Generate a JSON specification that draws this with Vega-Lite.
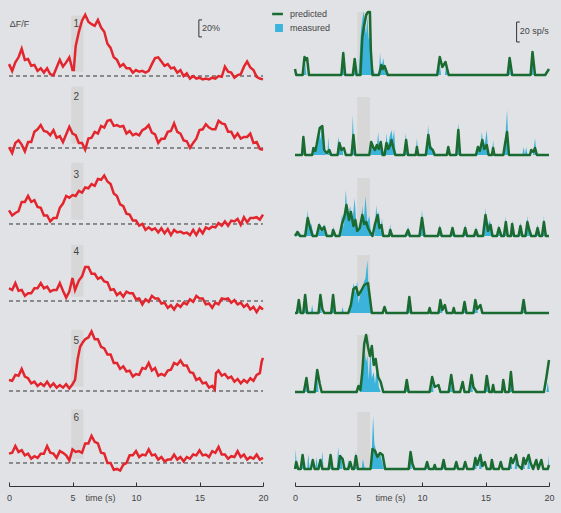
{
"$schema":"https://vega.github.io/schema/vega-lite/v6.json",
"background":"#e1e2e6",
"padding":{"left":4,"top":8,"right":12,"bottom":36},
"config":{"font":"Liberation Sans","view":{"stroke":null},"axis":{"grid":false}},
"datasets":{
"left":[
{"p":1,"t":0,"v":14},{"p":1,"t":0.25,"v":6},{"p":1,"t":0.5,"v":16},{"p":1,"t":0.75,"v":22},{"p":1,"t":1,"v":32},{"p":1,"t":1.25,"v":19},{"p":1,"t":1.5,"v":20},{"p":1,"t":1.75,"v":12},{"p":1,"t":2,"v":13},{"p":1,"t":2.25,"v":6},{"p":1,"t":2.5,"v":9},{"p":1,"t":2.75,"v":4},{"p":1,"t":3,"v":9},{"p":1,"t":3.25,"v":2},{"p":1,"t":3.5,"v":1},{"p":1,"t":3.75,"v":10},{"p":1,"t":4,"v":19},{"p":1,"t":4.25,"v":11},{"p":1,"t":4.5,"v":16},{"p":1,"t":4.75,"v":22},{"p":1,"t":5,"v":7},{"p":1,"t":5.1,"v":7},{"p":1,"t":5.25,"v":35},{"p":1,"t":5.5,"v":52},{"p":1,"t":5.75,"v":65},{"p":1,"t":6,"v":72},{"p":1,"t":6.25,"v":64},{"p":1,"t":6.5,"v":61},{"p":1,"t":6.75,"v":59},{"p":1,"t":7,"v":66},{"p":1,"t":7.25,"v":57},{"p":1,"t":7.5,"v":52},{"p":1,"t":7.75,"v":38},{"p":1,"t":8,"v":33},{"p":1,"t":8.25,"v":22},{"p":1,"t":8.5,"v":19},{"p":1,"t":8.75,"v":11},{"p":1,"t":9,"v":14},{"p":1,"t":9.25,"v":9},{"p":1,"t":9.5,"v":9},{"p":1,"t":9.75,"v":4},{"p":1,"t":10,"v":7},{"p":1,"t":10.25,"v":5},{"p":1,"t":10.5,"v":6},{"p":1,"t":10.75,"v":4},{"p":1,"t":11,"v":6},{"p":1,"t":11.25,"v":14},{"p":1,"t":11.5,"v":21},{"p":1,"t":11.75,"v":22},{"p":1,"t":12,"v":17},{"p":1,"t":12.25,"v":12},{"p":1,"t":12.5,"v":14},{"p":1,"t":12.75,"v":9},{"p":1,"t":13,"v":10},{"p":1,"t":13.25,"v":4},{"p":1,"t":13.5,"v":7},{"p":1,"t":13.75,"v":0},{"p":1,"t":14,"v":3},{"p":1,"t":14.25,"v":-3},{"p":1,"t":14.5,"v":0},{"p":1,"t":14.75,"v":-3},{"p":1,"t":15,"v":-2},{"p":1,"t":15.25,"v":-4},{"p":1,"t":15.5,"v":-3},{"p":1,"t":15.75,"v":-4},{"p":1,"t":16,"v":-2},{"p":1,"t":16.25,"v":-3},{"p":1,"t":16.5,"v":0},{"p":1,"t":16.75,"v":-1},{"p":1,"t":17,"v":11},{"p":1,"t":17.25,"v":5},{"p":1,"t":17.5,"v":4},{"p":1,"t":17.75,"v":-2},{"p":1,"t":18,"v":1},{"p":1,"t":18.25,"v":2},{"p":1,"t":18.5,"v":11},{"p":1,"t":18.75,"v":17},{"p":1,"t":19,"v":10},{"p":1,"t":19.25,"v":7},{"p":1,"t":19.5,"v":-1},{"p":1,"t":19.75,"v":-3},{"p":1,"t":20,"v":-4},
{"p":2,"t":0,"v":1},{"p":2,"t":0.25,"v":-6},{"p":2,"t":0.5,"v":6},{"p":2,"t":0.75,"v":9},{"p":2,"t":1,"v":4},{"p":2,"t":1.25,"v":-4},{"p":2,"t":1.5,"v":7},{"p":2,"t":1.75,"v":7},{"p":2,"t":2,"v":19},{"p":2,"t":2.25,"v":22},{"p":2,"t":2.5,"v":27},{"p":2,"t":2.75,"v":20},{"p":2,"t":3,"v":19},{"p":2,"t":3.25,"v":15},{"p":2,"t":3.5,"v":21},{"p":2,"t":3.75,"v":12},{"p":2,"t":4,"v":14},{"p":2,"t":4.25,"v":7},{"p":2,"t":4.5,"v":16},{"p":2,"t":4.75,"v":25},{"p":2,"t":5,"v":17},{"p":2,"t":5.25,"v":15},{"p":2,"t":5.5,"v":6},{"p":2,"t":5.75,"v":6},{"p":2,"t":6,"v":-2},{"p":2,"t":6.25,"v":11},{"p":2,"t":6.5,"v":12},{"p":2,"t":6.75,"v":19},{"p":2,"t":7,"v":17},{"p":2,"t":7.25,"v":26},{"p":2,"t":7.5,"v":24},{"p":2,"t":7.75,"v":32},{"p":2,"t":8,"v":33},{"p":2,"t":8.25,"v":26},{"p":2,"t":8.5,"v":27},{"p":2,"t":8.75,"v":25},{"p":2,"t":9,"v":26},{"p":2,"t":9.25,"v":17},{"p":2,"t":9.5,"v":20},{"p":2,"t":9.75,"v":15},{"p":2,"t":10,"v":17},{"p":2,"t":10.25,"v":15},{"p":2,"t":10.5,"v":21},{"p":2,"t":10.75,"v":23},{"p":2,"t":11,"v":27},{"p":2,"t":11.25,"v":18},{"p":2,"t":11.5,"v":16},{"p":2,"t":11.75,"v":6},{"p":2,"t":12,"v":11},{"p":2,"t":12.25,"v":11},{"p":2,"t":12.5,"v":19},{"p":2,"t":12.75,"v":20},{"p":2,"t":13,"v":29},{"p":2,"t":13.25,"v":19},{"p":2,"t":13.5,"v":17},{"p":2,"t":13.75,"v":9},{"p":2,"t":14,"v":8},{"p":2,"t":14.25,"v":0},{"p":2,"t":14.5,"v":6},{"p":2,"t":14.75,"v":11},{"p":2,"t":15,"v":21},{"p":2,"t":15.25,"v":22},{"p":2,"t":15.5,"v":28},{"p":2,"t":15.75,"v":24},{"p":2,"t":16,"v":22},{"p":2,"t":16.25,"v":22},{"p":2,"t":16.5,"v":32},{"p":2,"t":16.75,"v":29},{"p":2,"t":17,"v":28},{"p":2,"t":17.25,"v":19},{"p":2,"t":17.5,"v":19},{"p":2,"t":17.75,"v":12},{"p":2,"t":18,"v":17},{"p":2,"t":18.25,"v":11},{"p":2,"t":18.5,"v":13},{"p":2,"t":18.75,"v":13},{"p":2,"t":19,"v":17},{"p":2,"t":19.25,"v":6},{"p":2,"t":19.5,"v":7},{"p":2,"t":19.75,"v":-1},{"p":2,"t":20,"v":-2},
{"p":3,"t":0,"v":16},{"p":3,"t":0.25,"v":10},{"p":3,"t":0.5,"v":13},{"p":3,"t":0.75,"v":15},{"p":3,"t":1,"v":26},{"p":3,"t":1.25,"v":26},{"p":3,"t":1.5,"v":33},{"p":3,"t":1.75,"v":26},{"p":3,"t":2,"v":28},{"p":3,"t":2.25,"v":20},{"p":3,"t":2.5,"v":19},{"p":3,"t":2.75,"v":10},{"p":3,"t":3,"v":10},{"p":3,"t":3.25,"v":3},{"p":3,"t":3.5,"v":7},{"p":3,"t":3.75,"v":7},{"p":3,"t":4,"v":19},{"p":3,"t":4.25,"v":24},{"p":3,"t":4.5,"v":33},{"p":3,"t":4.75,"v":31},{"p":3,"t":5,"v":34},{"p":3,"t":5.25,"v":33},{"p":3,"t":5.5,"v":39},{"p":3,"t":5.75,"v":37},{"p":3,"t":6,"v":43},{"p":3,"t":6.25,"v":42},{"p":3,"t":6.5,"v":47},{"p":3,"t":6.75,"v":45},{"p":3,"t":7,"v":53},{"p":3,"t":7.25,"v":52},{"p":3,"t":7.5,"v":57},{"p":3,"t":7.75,"v":50},{"p":3,"t":8,"v":47},{"p":3,"t":8.25,"v":36},{"p":3,"t":8.5,"v":33},{"p":3,"t":8.75,"v":23},{"p":3,"t":9,"v":21},{"p":3,"t":9.25,"v":12},{"p":3,"t":9.5,"v":11},{"p":3,"t":9.75,"v":4},{"p":3,"t":10,"v":4},{"p":3,"t":10.25,"v":-2},{"p":3,"t":10.5,"v":0},{"p":3,"t":10.75,"v":-7},{"p":3,"t":11,"v":-4},{"p":3,"t":11.25,"v":-7},{"p":3,"t":11.5,"v":-5},{"p":3,"t":11.75,"v":-10},{"p":3,"t":12,"v":-5},{"p":3,"t":12.25,"v":-11},{"p":3,"t":12.5,"v":-6},{"p":3,"t":12.75,"v":-13},{"p":3,"t":13,"v":-7},{"p":3,"t":13.25,"v":-10},{"p":3,"t":13.5,"v":-9},{"p":3,"t":13.75,"v":-11},{"p":3,"t":14,"v":-10},{"p":3,"t":14.25,"v":-13},{"p":3,"t":14.5,"v":-7},{"p":3,"t":14.75,"v":-13},{"p":3,"t":15,"v":-6},{"p":3,"t":15.25,"v":-11},{"p":3,"t":15.5,"v":-4},{"p":3,"t":15.75,"v":-6},{"p":3,"t":16,"v":-3},{"p":3,"t":16.25,"v":-4},{"p":3,"t":16.5,"v":1},{"p":3,"t":16.75,"v":-2},{"p":3,"t":17,"v":3},{"p":3,"t":17.25,"v":-2},{"p":3,"t":17.5,"v":4},{"p":3,"t":17.75,"v":3},{"p":3,"t":18,"v":6},{"p":3,"t":18.25,"v":-1},{"p":3,"t":18.5,"v":8},{"p":3,"t":18.75,"v":2},{"p":3,"t":19,"v":7},{"p":3,"t":19.25,"v":7},{"p":3,"t":19.5,"v":8},{"p":3,"t":19.75,"v":5},{"p":3,"t":20,"v":11},
{"p":4,"t":0,"v":15},{"p":4,"t":0.25,"v":13},{"p":4,"t":0.5,"v":21},{"p":4,"t":0.75,"v":12},{"p":4,"t":1,"v":13},{"p":4,"t":1.25,"v":6},{"p":4,"t":1.5,"v":9},{"p":4,"t":1.75,"v":9},{"p":4,"t":2,"v":15},{"p":4,"t":2.25,"v":15},{"p":4,"t":2.5,"v":21},{"p":4,"t":2.75,"v":15},{"p":4,"t":3,"v":17},{"p":4,"t":3.25,"v":11},{"p":4,"t":3.5,"v":13},{"p":4,"t":3.75,"v":13},{"p":4,"t":4,"v":21},{"p":4,"t":4.25,"v":12},{"p":4,"t":4.5,"v":4},{"p":4,"t":4.75,"v":11},{"p":4,"t":5,"v":27},{"p":4,"t":5.2,"v":13},{"p":4,"t":5.5,"v":24},{"p":4,"t":5.75,"v":29},{"p":4,"t":6,"v":40},{"p":4,"t":6.25,"v":40},{"p":4,"t":6.5,"v":32},{"p":4,"t":6.75,"v":32},{"p":4,"t":7,"v":26},{"p":4,"t":7.25,"v":28},{"p":4,"t":7.5,"v":23},{"p":4,"t":7.75,"v":22},{"p":4,"t":8,"v":13},{"p":4,"t":8.25,"v":14},{"p":4,"t":8.5,"v":7},{"p":4,"t":8.75,"v":10},{"p":4,"t":9,"v":5},{"p":4,"t":9.25,"v":11},{"p":4,"t":9.5,"v":9},{"p":4,"t":9.75,"v":9},{"p":4,"t":10,"v":2},{"p":4,"t":10.25,"v":3},{"p":4,"t":10.5,"v":-4},{"p":4,"t":10.75,"v":2},{"p":4,"t":11,"v":-1},{"p":4,"t":11.25,"v":6},{"p":4,"t":11.5,"v":3},{"p":4,"t":11.75,"v":3},{"p":4,"t":12,"v":-3},{"p":4,"t":12.25,"v":-2},{"p":4,"t":12.5,"v":-8},{"p":4,"t":12.75,"v":-5},{"p":4,"t":13,"v":-10},{"p":4,"t":13.25,"v":-4},{"p":4,"t":13.5,"v":-7},{"p":4,"t":13.75,"v":-2},{"p":4,"t":14,"v":-4},{"p":4,"t":14.25,"v":2},{"p":4,"t":14.5,"v":-1},{"p":4,"t":14.75,"v":6},{"p":4,"t":15,"v":3},{"p":4,"t":15.25,"v":3},{"p":4,"t":15.5,"v":-4},{"p":4,"t":15.75,"v":-3},{"p":4,"t":16,"v":-8},{"p":4,"t":16.25,"v":-2},{"p":4,"t":16.5,"v":-4},{"p":4,"t":16.75,"v":3},{"p":4,"t":17,"v":2},{"p":4,"t":17.25,"v":3},{"p":4,"t":17.5,"v":-2},{"p":4,"t":17.75,"v":1},{"p":4,"t":18,"v":-4},{"p":4,"t":18.25,"v":-2},{"p":4,"t":18.5,"v":-7},{"p":4,"t":18.75,"v":-4},{"p":4,"t":19,"v":-10},{"p":4,"t":19.25,"v":-7},{"p":4,"t":19.5,"v":-13},{"p":4,"t":19.75,"v":-7},{"p":4,"t":20,"v":-10},
{"p":5,"t":0,"v":13},{"p":5,"t":0.25,"v":12},{"p":5,"t":0.5,"v":19},{"p":5,"t":0.75,"v":18},{"p":5,"t":1,"v":26},{"p":5,"t":1.25,"v":17},{"p":5,"t":1.5,"v":15},{"p":5,"t":1.75,"v":9},{"p":5,"t":2,"v":11},{"p":5,"t":2.25,"v":6},{"p":5,"t":2.5,"v":9},{"p":5,"t":2.75,"v":6},{"p":5,"t":3,"v":11},{"p":5,"t":3.25,"v":5},{"p":5,"t":3.5,"v":9},{"p":5,"t":3.75,"v":4},{"p":5,"t":4,"v":7},{"p":5,"t":4.25,"v":4},{"p":5,"t":4.5,"v":8},{"p":5,"t":4.75,"v":3},{"p":5,"t":5,"v":8},{"p":5,"t":5.2,"v":13},{"p":5,"t":5.4,"v":37},{"p":5,"t":5.6,"v":52},{"p":5,"t":5.8,"v":57},{"p":5,"t":6,"v":61},{"p":5,"t":6.25,"v":63},{"p":5,"t":6.5,"v":70},{"p":5,"t":6.75,"v":61},{"p":5,"t":7,"v":61},{"p":5,"t":7.25,"v":52},{"p":5,"t":7.5,"v":50},{"p":5,"t":7.75,"v":43},{"p":5,"t":8,"v":43},{"p":5,"t":8.25,"v":33},{"p":5,"t":8.5,"v":33},{"p":5,"t":8.75,"v":26},{"p":5,"t":9,"v":29},{"p":5,"t":9.25,"v":23},{"p":5,"t":9.5,"v":24},{"p":5,"t":9.75,"v":17},{"p":5,"t":10,"v":20},{"p":5,"t":10.25,"v":19},{"p":5,"t":10.5,"v":27},{"p":5,"t":10.75,"v":26},{"p":5,"t":11,"v":33},{"p":5,"t":11.25,"v":24},{"p":5,"t":11.5,"v":27},{"p":5,"t":11.75,"v":18},{"p":5,"t":12,"v":20},{"p":5,"t":12.25,"v":18},{"p":5,"t":12.5,"v":24},{"p":5,"t":12.75,"v":25},{"p":5,"t":13,"v":33},{"p":5,"t":13.25,"v":31},{"p":5,"t":13.5,"v":36},{"p":5,"t":13.75,"v":30},{"p":5,"t":14,"v":30},{"p":5,"t":14.25,"v":22},{"p":5,"t":14.5,"v":21},{"p":5,"t":14.75,"v":13},{"p":5,"t":15,"v":15},{"p":5,"t":15.25,"v":9},{"p":5,"t":15.5,"v":10},{"p":5,"t":15.75,"v":4},{"p":5,"t":16,"v":6},{"p":5,"t":16.2,"v":2},{"p":5,"t":16.3,"v":21},{"p":5,"t":16.5,"v":24},{"p":5,"t":16.75,"v":18},{"p":5,"t":17,"v":20},{"p":5,"t":17.25,"v":15},{"p":5,"t":17.5,"v":17},{"p":5,"t":17.75,"v":11},{"p":5,"t":18,"v":14},{"p":5,"t":18.25,"v":9},{"p":5,"t":18.5,"v":13},{"p":5,"t":18.75,"v":10},{"p":5,"t":19,"v":15},{"p":5,"t":19.25,"v":12},{"p":5,"t":19.5,"v":19},{"p":5,"t":19.75,"v":21},{"p":5,"t":19.9,"v":35},{"p":5,"t":20,"v":39},
{"p":6,"t":0,"v":11},{"p":6,"t":0.25,"v":12},{"p":6,"t":0.5,"v":20},{"p":6,"t":0.75,"v":13},{"p":6,"t":1,"v":15},{"p":6,"t":1.25,"v":9},{"p":6,"t":1.5,"v":11},{"p":6,"t":1.75,"v":5},{"p":6,"t":2,"v":8},{"p":6,"t":2.25,"v":6},{"p":6,"t":2.5,"v":11},{"p":6,"t":2.75,"v":11},{"p":6,"t":3,"v":20},{"p":6,"t":3.25,"v":12},{"p":6,"t":3.5,"v":11},{"p":6,"t":3.75,"v":6},{"p":6,"t":4,"v":14},{"p":6,"t":4.25,"v":12},{"p":6,"t":4.5,"v":9},{"p":6,"t":4.75,"v":3},{"p":6,"t":5,"v":16},{"p":6,"t":5.25,"v":13},{"p":6,"t":5.5,"v":14},{"p":6,"t":5.75,"v":12},{"p":6,"t":6,"v":23},{"p":6,"t":6.25,"v":23},{"p":6,"t":6.5,"v":32},{"p":6,"t":6.75,"v":25},{"p":6,"t":7,"v":23},{"p":6,"t":7.25,"v":12},{"p":6,"t":7.5,"v":11},{"p":6,"t":7.75,"v":0},{"p":6,"t":8,"v":0},{"p":6,"t":8.25,"v":-8},{"p":6,"t":8.5,"v":-7},{"p":6,"t":8.75,"v":-9},{"p":6,"t":9,"v":-2},{"p":6,"t":9.25,"v":0},{"p":6,"t":9.5,"v":9},{"p":6,"t":9.75,"v":9},{"p":6,"t":10,"v":14},{"p":6,"t":10.25,"v":7},{"p":6,"t":10.5,"v":10},{"p":6,"t":10.75,"v":9},{"p":6,"t":11,"v":16},{"p":6,"t":11.25,"v":9},{"p":6,"t":11.5,"v":10},{"p":6,"t":11.75,"v":4},{"p":6,"t":12,"v":7},{"p":6,"t":12.25,"v":2},{"p":6,"t":12.5,"v":4},{"p":6,"t":12.75,"v":4},{"p":6,"t":13,"v":10},{"p":6,"t":13.25,"v":4},{"p":6,"t":13.5,"v":7},{"p":6,"t":13.75,"v":2},{"p":6,"t":14,"v":7},{"p":6,"t":14.25,"v":5},{"p":6,"t":14.5,"v":10},{"p":6,"t":14.75,"v":9},{"p":6,"t":15,"v":15},{"p":6,"t":15.25,"v":9},{"p":6,"t":15.5,"v":10},{"p":6,"t":15.75,"v":7},{"p":6,"t":16,"v":14},{"p":6,"t":16.25,"v":12},{"p":6,"t":16.5,"v":19},{"p":6,"t":16.75,"v":10},{"p":6,"t":17,"v":10},{"p":6,"t":17.25,"v":5},{"p":6,"t":17.5,"v":8},{"p":6,"t":17.75,"v":7},{"p":6,"t":18,"v":14},{"p":6,"t":18.25,"v":7},{"p":6,"t":18.5,"v":10},{"p":6,"t":18.75,"v":4},{"p":6,"t":19,"v":7},{"p":6,"t":19.25,"v":5},{"p":6,"t":19.5,"v":10},{"p":6,"t":19.75,"v":4},{"p":6,"t":20,"v":6}
],
"pred":[
{"p":1,"t":0,"v":6},{"p":1,"t":0.1,"v":0},{"p":1,"t":0.6,"v":0},{"p":1,"t":0.75,"v":18},{"p":1,"t":0.85,"v":15},{"p":1,"t":0.95,"v":17},{"p":1,"t":1.1,"v":0},{"p":1,"t":3.65,"v":0},{"p":1,"t":3.8,"v":22},{"p":1,"t":3.95,"v":0},{"p":1,"t":4.55,"v":0},{"p":1,"t":4.7,"v":16},{"p":1,"t":4.85,"v":0},{"p":1,"t":5.15,"v":0},{"p":1,"t":5.3,"v":38},{"p":1,"t":5.45,"v":50},{"p":1,"t":5.6,"v":60},{"p":1,"t":5.75,"v":63},{"p":1,"t":5.9,"v":63},{"p":1,"t":5.97,"v":25},{"p":1,"t":6.1,"v":0},{"p":1,"t":6.6,"v":0},{"p":1,"t":6.8,"v":10},{"p":1,"t":6.9,"v":6},{"p":1,"t":7.05,"v":9},{"p":1,"t":7.3,"v":0},{"p":1,"t":11.2,"v":0},{"p":1,"t":11.4,"v":18},{"p":1,"t":11.6,"v":8},{"p":1,"t":11.85,"v":13},{"p":1,"t":12.1,"v":0},{"p":1,"t":16.75,"v":0},{"p":1,"t":16.9,"v":17},{"p":1,"t":17.1,"v":0},{"p":1,"t":18.55,"v":0},{"p":1,"t":18.7,"v":23},{"p":1,"t":18.9,"v":0},{"p":1,"t":19.7,"v":0},{"p":1,"t":20,"v":6},
{"p":2,"t":0,"v":0},{"p":2,"t":0.55,"v":0},{"p":2,"t":0.66,"v":18},{"p":2,"t":0.8,"v":0},{"p":2,"t":1.35,"v":0},{"p":2,"t":1.45,"v":7},{"p":2,"t":1.6,"v":4},{"p":2,"t":1.7,"v":10},{"p":2,"t":1.95,"v":27},{"p":2,"t":2.15,"v":29},{"p":2,"t":2.3,"v":5},{"p":2,"t":2.5,"v":2},{"p":2,"t":2.7,"v":5},{"p":2,"t":2.85,"v":0},{"p":2,"t":3.35,"v":0},{"p":2,"t":3.5,"v":12},{"p":2,"t":3.65,"v":5},{"p":2,"t":3.85,"v":7},{"p":2,"t":4,"v":0},{"p":2,"t":4.45,"v":0},{"p":2,"t":4.6,"v":20},{"p":2,"t":4.75,"v":0},{"p":2,"t":5.85,"v":0},{"p":2,"t":6,"v":13},{"p":2,"t":6.15,"v":8},{"p":2,"t":6.3,"v":5},{"p":2,"t":6.45,"v":10},{"p":2,"t":6.6,"v":6},{"p":2,"t":6.75,"v":13},{"p":2,"t":6.9,"v":0},{"p":2,"t":7.05,"v":0},{"p":2,"t":7.2,"v":12},{"p":2,"t":7.35,"v":6},{"p":2,"t":7.5,"v":10},{"p":2,"t":7.6,"v":15},{"p":2,"t":7.75,"v":7},{"p":2,"t":7.9,"v":0},{"p":2,"t":8.6,"v":0},{"p":2,"t":8.75,"v":15},{"p":2,"t":8.9,"v":0},{"p":2,"t":9.5,"v":0},{"p":2,"t":9.6,"v":8},{"p":2,"t":9.7,"v":0},{"p":2,"t":10.3,"v":0},{"p":2,"t":10.5,"v":20},{"p":2,"t":10.65,"v":7},{"p":2,"t":10.85,"v":5},{"p":2,"t":11,"v":0},{"p":2,"t":11.95,"v":0},{"p":2,"t":12.07,"v":8},{"p":2,"t":12.2,"v":0},{"p":2,"t":12.7,"v":0},{"p":2,"t":12.86,"v":25},{"p":2,"t":13,"v":0},{"p":2,"t":14.25,"v":0},{"p":2,"t":14.4,"v":8},{"p":2,"t":14.55,"v":4},{"p":2,"t":14.75,"v":15},{"p":2,"t":14.9,"v":6},{"p":2,"t":15.1,"v":10},{"p":2,"t":15.25,"v":0},{"p":2,"t":15.5,"v":0},{"p":2,"t":15.6,"v":7},{"p":2,"t":15.7,"v":0},{"p":2,"t":16.4,"v":0},{"p":2,"t":16.55,"v":12},{"p":2,"t":16.7,"v":23},{"p":2,"t":16.85,"v":0},{"p":2,"t":18.5,"v":0},{"p":2,"t":18.6,"v":5},{"p":2,"t":18.75,"v":3},{"p":2,"t":18.9,"v":7},{"p":2,"t":19.05,"v":0},{"p":2,"t":20,"v":0},
{"p":3,"t":0,"v":0},{"p":3,"t":0.2,"v":4},{"p":3,"t":0.4,"v":0},{"p":3,"t":0.8,"v":0},{"p":3,"t":1,"v":18},{"p":3,"t":1.2,"v":8},{"p":3,"t":1.4,"v":0},{"p":3,"t":1.7,"v":0},{"p":3,"t":1.9,"v":11},{"p":3,"t":2.1,"v":6},{"p":3,"t":2.3,"v":9},{"p":3,"t":2.5,"v":0},{"p":3,"t":2.9,"v":0},{"p":3,"t":3,"v":6},{"p":3,"t":3.2,"v":0},{"p":3,"t":3.5,"v":0},{"p":3,"t":3.7,"v":12},{"p":3,"t":3.9,"v":20},{"p":3,"t":4.05,"v":31},{"p":3,"t":4.25,"v":16},{"p":3,"t":4.4,"v":24},{"p":3,"t":4.6,"v":10},{"p":3,"t":4.75,"v":16},{"p":3,"t":4.9,"v":5},{"p":3,"t":5.1,"v":8},{"p":3,"t":5.3,"v":21},{"p":3,"t":5.45,"v":12},{"p":3,"t":5.6,"v":14},{"p":3,"t":5.75,"v":8},{"p":3,"t":5.95,"v":3},{"p":3,"t":6.1,"v":0},{"p":3,"t":6.3,"v":12},{"p":3,"t":6.5,"v":21},{"p":3,"t":6.65,"v":8},{"p":3,"t":6.8,"v":11},{"p":3,"t":6.95,"v":0},{"p":3,"t":7.4,"v":0},{"p":3,"t":7.5,"v":6},{"p":3,"t":7.65,"v":0},{"p":3,"t":8.7,"v":0},{"p":3,"t":8.9,"v":6},{"p":3,"t":9.05,"v":0},{"p":3,"t":9.8,"v":0},{"p":3,"t":10,"v":18},{"p":3,"t":10.2,"v":0},{"p":3,"t":11.25,"v":0},{"p":3,"t":11.4,"v":8},{"p":3,"t":11.55,"v":0},{"p":3,"t":12.25,"v":0},{"p":3,"t":12.4,"v":8},{"p":3,"t":12.55,"v":0},{"p":3,"t":13.25,"v":0},{"p":3,"t":13.4,"v":8},{"p":3,"t":13.55,"v":0},{"p":3,"t":14.1,"v":0},{"p":3,"t":14.25,"v":6},{"p":3,"t":14.4,"v":0},{"p":3,"t":14.8,"v":0},{"p":3,"t":15,"v":21},{"p":3,"t":15.2,"v":5},{"p":3,"t":15.4,"v":11},{"p":3,"t":15.55,"v":0},{"p":3,"t":15.9,"v":0},{"p":3,"t":16.05,"v":8},{"p":3,"t":16.25,"v":0},{"p":3,"t":16.45,"v":0},{"p":3,"t":16.6,"v":14},{"p":3,"t":16.75,"v":0},{"p":3,"t":17,"v":0},{"p":3,"t":17.1,"v":12},{"p":3,"t":17.25,"v":0},{"p":3,"t":17.6,"v":0},{"p":3,"t":17.75,"v":10},{"p":3,"t":17.9,"v":0},{"p":3,"t":18.15,"v":0},{"p":3,"t":18.3,"v":14},{"p":3,"t":18.45,"v":6},{"p":3,"t":18.6,"v":0},{"p":3,"t":18.95,"v":0},{"p":3,"t":19.1,"v":8},{"p":3,"t":19.25,"v":0},{"p":3,"t":19.45,"v":0},{"p":3,"t":19.6,"v":14},{"p":3,"t":19.75,"v":0},{"p":3,"t":20,"v":0},
{"p":4,"t":0,"v":0},{"p":4,"t":0.15,"v":0},{"p":4,"t":0.3,"v":13},{"p":4,"t":0.45,"v":0},{"p":4,"t":0.65,"v":0},{"p":4,"t":0.8,"v":18},{"p":4,"t":0.95,"v":0},{"p":4,"t":1.85,"v":0},{"p":4,"t":2,"v":18},{"p":4,"t":2.15,"v":4},{"p":4,"t":2.3,"v":0},{"p":4,"t":2.85,"v":0},{"p":4,"t":3,"v":18},{"p":4,"t":3.15,"v":0},{"p":4,"t":4.2,"v":0},{"p":4,"t":4.4,"v":8},{"p":4,"t":4.6,"v":24},{"p":4,"t":4.8,"v":26},{"p":4,"t":5,"v":18},{"p":4,"t":5.2,"v":22},{"p":4,"t":5.45,"v":28},{"p":4,"t":5.75,"v":30},{"p":4,"t":5.9,"v":15},{"p":4,"t":6.05,"v":0},{"p":4,"t":6.9,"v":0},{"p":4,"t":7.05,"v":6},{"p":4,"t":7.2,"v":0},{"p":4,"t":8.85,"v":0},{"p":4,"t":9,"v":16},{"p":4,"t":9.15,"v":0},{"p":4,"t":10.5,"v":0},{"p":4,"t":10.6,"v":5},{"p":4,"t":10.7,"v":0},{"p":4,"t":11.3,"v":0},{"p":4,"t":11.45,"v":13},{"p":4,"t":11.6,"v":3},{"p":4,"t":11.8,"v":8},{"p":4,"t":11.95,"v":0},{"p":4,"t":12.4,"v":0},{"p":4,"t":12.5,"v":5},{"p":4,"t":12.6,"v":0},{"p":4,"t":13.2,"v":0},{"p":4,"t":13.35,"v":11},{"p":4,"t":13.5,"v":0},{"p":4,"t":14.05,"v":0},{"p":4,"t":14.2,"v":13},{"p":4,"t":14.35,"v":4},{"p":4,"t":14.6,"v":8},{"p":4,"t":14.75,"v":0},{"p":4,"t":17.85,"v":0},{"p":4,"t":18,"v":13},{"p":4,"t":18.15,"v":0},{"p":4,"t":20,"v":0},
{"p":5,"t":0,"v":0},{"p":5,"t":0.7,"v":0},{"p":5,"t":0.9,"v":14},{"p":5,"t":1.05,"v":0},{"p":5,"t":1.55,"v":0},{"p":5,"t":1.75,"v":22},{"p":5,"t":1.95,"v":8},{"p":5,"t":2.1,"v":0},{"p":5,"t":4.85,"v":0},{"p":5,"t":5,"v":6},{"p":5,"t":5.15,"v":2},{"p":5,"t":5.3,"v":20},{"p":5,"t":5.45,"v":48},{"p":5,"t":5.6,"v":57},{"p":5,"t":5.75,"v":45},{"p":5,"t":5.9,"v":36},{"p":5,"t":6.05,"v":46},{"p":5,"t":6.2,"v":27},{"p":5,"t":6.35,"v":33},{"p":5,"t":6.55,"v":15},{"p":5,"t":6.75,"v":10},{"p":5,"t":6.95,"v":0},{"p":5,"t":8.65,"v":0},{"p":5,"t":8.8,"v":12},{"p":5,"t":8.95,"v":0},{"p":5,"t":10.6,"v":0},{"p":5,"t":10.8,"v":15},{"p":5,"t":11,"v":5},{"p":5,"t":11.3,"v":7},{"p":5,"t":11.45,"v":0},{"p":5,"t":12.1,"v":0},{"p":5,"t":12.3,"v":17},{"p":5,"t":12.5,"v":0},{"p":5,"t":13,"v":0},{"p":5,"t":13.2,"v":10},{"p":5,"t":13.35,"v":0},{"p":5,"t":13.7,"v":0},{"p":5,"t":13.9,"v":17},{"p":5,"t":14.05,"v":5},{"p":5,"t":14.3,"v":0},{"p":5,"t":14.95,"v":0},{"p":5,"t":15.1,"v":16},{"p":5,"t":15.3,"v":0},{"p":5,"t":15.5,"v":0},{"p":5,"t":15.6,"v":7},{"p":5,"t":15.7,"v":0},{"p":5,"t":16.3,"v":0},{"p":5,"t":16.4,"v":12},{"p":5,"t":16.55,"v":0},{"p":5,"t":16.85,"v":0},{"p":5,"t":17,"v":20},{"p":5,"t":17.15,"v":0},{"p":5,"t":19.6,"v":0},{"p":5,"t":19.8,"v":15},{"p":5,"t":20,"v":32},
{"p":6,"t":0,"v":0},{"p":6,"t":0.1,"v":7},{"p":6,"t":0.25,"v":0},{"p":6,"t":0.45,"v":0},{"p":6,"t":0.6,"v":14},{"p":6,"t":0.75,"v":0},{"p":6,"t":1.25,"v":0},{"p":6,"t":1.4,"v":9},{"p":6,"t":1.55,"v":0},{"p":6,"t":1.85,"v":0},{"p":6,"t":2,"v":9},{"p":6,"t":2.15,"v":0},{"p":6,"t":2.65,"v":0},{"p":6,"t":2.8,"v":14},{"p":6,"t":2.95,"v":0},{"p":6,"t":3.4,"v":0},{"p":6,"t":3.55,"v":13},{"p":6,"t":3.75,"v":10},{"p":6,"t":3.9,"v":0},{"p":6,"t":4.2,"v":0},{"p":6,"t":4.35,"v":7},{"p":6,"t":4.5,"v":0},{"p":6,"t":4.65,"v":0},{"p":6,"t":4.8,"v":13},{"p":6,"t":4.95,"v":0},{"p":6,"t":5.95,"v":0},{"p":6,"t":6.1,"v":20},{"p":6,"t":6.3,"v":18},{"p":6,"t":6.5,"v":12},{"p":6,"t":6.7,"v":16},{"p":6,"t":6.9,"v":14},{"p":6,"t":7.1,"v":0},{"p":6,"t":8.95,"v":0},{"p":6,"t":9.1,"v":17},{"p":6,"t":9.25,"v":5},{"p":6,"t":9.4,"v":0},{"p":6,"t":10.25,"v":0},{"p":6,"t":10.4,"v":7},{"p":6,"t":10.55,"v":0},{"p":6,"t":10.9,"v":0},{"p":6,"t":11,"v":4},{"p":6,"t":11.1,"v":0},{"p":6,"t":11.55,"v":0},{"p":6,"t":11.7,"v":9},{"p":6,"t":11.85,"v":0},{"p":6,"t":12.55,"v":0},{"p":6,"t":12.7,"v":7},{"p":6,"t":12.85,"v":0},{"p":6,"t":13.25,"v":0},{"p":6,"t":13.4,"v":7},{"p":6,"t":13.55,"v":0},{"p":6,"t":14.05,"v":0},{"p":6,"t":14.2,"v":11},{"p":6,"t":14.35,"v":4},{"p":6,"t":14.6,"v":14},{"p":6,"t":14.75,"v":3},{"p":6,"t":14.95,"v":7},{"p":6,"t":15.1,"v":0},{"p":6,"t":15.4,"v":0},{"p":6,"t":15.5,"v":9},{"p":6,"t":15.65,"v":0},{"p":6,"t":16.05,"v":0},{"p":6,"t":16.2,"v":7},{"p":6,"t":16.35,"v":0},{"p":6,"t":16.85,"v":0},{"p":6,"t":17,"v":11},{"p":6,"t":17.15,"v":6},{"p":6,"t":17.4,"v":14},{"p":6,"t":17.55,"v":4},{"p":6,"t":17.85,"v":0},{"p":6,"t":18,"v":11},{"p":6,"t":18.15,"v":5},{"p":6,"t":18.4,"v":14},{"p":6,"t":18.55,"v":6},{"p":6,"t":18.75,"v":0},{"p":6,"t":19,"v":9},{"p":6,"t":19.15,"v":0},{"p":6,"t":19.4,"v":9},{"p":6,"t":19.55,"v":0},{"p":6,"t":19.9,"v":0},{"p":6,"t":20,"v":4}
],
"meas":[
{"p":1,"t":0,"v":0},{"p":1,"t":0.7,"v":0},{"p":1,"t":0.8,"v":12},{"p":1,"t":0.9,"v":0},{"p":1,"t":3.7,"v":0},{"p":1,"t":3.8,"v":18},{"p":1,"t":3.9,"v":0},{"p":1,"t":4.6,"v":0},{"p":1,"t":4.7,"v":14},{"p":1,"t":4.8,"v":0},{"p":1,"t":5,"v":0},{"p":1,"t":5.1,"v":20},{"p":1,"t":5.2,"v":45},{"p":1,"t":5.3,"v":55},{"p":1,"t":5.4,"v":64},{"p":1,"t":5.5,"v":50},{"p":1,"t":5.6,"v":40},{"p":1,"t":5.7,"v":58},{"p":1,"t":5.8,"v":35},{"p":1,"t":5.9,"v":42},{"p":1,"t":6,"v":20},{"p":1,"t":6.1,"v":8},{"p":1,"t":6.3,"v":0},{"p":1,"t":6.6,"v":0},{"p":1,"t":6.7,"v":22},{"p":1,"t":6.8,"v":5},{"p":1,"t":6.95,"v":17},{"p":1,"t":7.1,"v":3},{"p":1,"t":7.25,"v":0},{"p":1,"t":11.3,"v":0},{"p":1,"t":11.4,"v":12},{"p":1,"t":11.5,"v":0},{"p":1,"t":11.8,"v":0},{"p":1,"t":11.9,"v":10},{"p":1,"t":12,"v":0},{"p":1,"t":16.8,"v":0},{"p":1,"t":16.9,"v":12},{"p":1,"t":17,"v":0},{"p":1,"t":18.6,"v":0},{"p":1,"t":18.7,"v":15},{"p":1,"t":18.8,"v":0},{"p":1,"t":20,"v":0},
{"p":2,"t":0,"v":0},{"p":2,"t":0.55,"v":0},{"p":2,"t":0.66,"v":20},{"p":2,"t":0.75,"v":5},{"p":2,"t":0.85,"v":0},{"p":2,"t":1.4,"v":0},{"p":2,"t":1.5,"v":6},{"p":2,"t":1.65,"v":3},{"p":2,"t":1.8,"v":12},{"p":2,"t":1.9,"v":22},{"p":2,"t":2,"v":15},{"p":2,"t":2.1,"v":28},{"p":2,"t":2.2,"v":20},{"p":2,"t":2.3,"v":6},{"p":2,"t":2.45,"v":0},{"p":2,"t":2.55,"v":0},{"p":2,"t":2.62,"v":18},{"p":2,"t":2.7,"v":3},{"p":2,"t":2.85,"v":0},{"p":2,"t":3.3,"v":0},{"p":2,"t":3.4,"v":18},{"p":2,"t":3.55,"v":6},{"p":2,"t":3.7,"v":9},{"p":2,"t":3.8,"v":0},{"p":2,"t":4.45,"v":0},{"p":2,"t":4.55,"v":40},{"p":2,"t":4.65,"v":8},{"p":2,"t":4.75,"v":0},{"p":2,"t":5.95,"v":0},{"p":2,"t":6.05,"v":10},{"p":2,"t":6.2,"v":5},{"p":2,"t":6.45,"v":8},{"p":2,"t":6.55,"v":23},{"p":2,"t":6.65,"v":6},{"p":2,"t":6.8,"v":12},{"p":2,"t":6.9,"v":0},{"p":2,"t":7.1,"v":0},{"p":2,"t":7.2,"v":22},{"p":2,"t":7.3,"v":8},{"p":2,"t":7.45,"v":18},{"p":2,"t":7.6,"v":25},{"p":2,"t":7.7,"v":15},{"p":2,"t":7.8,"v":25},{"p":2,"t":7.9,"v":5},{"p":2,"t":8,"v":0},{"p":2,"t":8.6,"v":0},{"p":2,"t":8.72,"v":22},{"p":2,"t":8.85,"v":0},{"p":2,"t":9.5,"v":0},{"p":2,"t":9.6,"v":17},{"p":2,"t":9.7,"v":0},{"p":2,"t":10.35,"v":0},{"p":2,"t":10.48,"v":30},{"p":2,"t":10.6,"v":10},{"p":2,"t":10.8,"v":8},{"p":2,"t":10.95,"v":0},{"p":2,"t":11.95,"v":0},{"p":2,"t":12.05,"v":6},{"p":2,"t":12.15,"v":0},{"p":2,"t":12.7,"v":0},{"p":2,"t":12.85,"v":32},{"p":2,"t":12.95,"v":15},{"p":2,"t":13.05,"v":0},{"p":2,"t":14.3,"v":0},{"p":2,"t":14.45,"v":10},{"p":2,"t":14.6,"v":5},{"p":2,"t":14.7,"v":23},{"p":2,"t":14.85,"v":8},{"p":2,"t":14.95,"v":12},{"p":2,"t":15.1,"v":25},{"p":2,"t":15.2,"v":5},{"p":2,"t":15.3,"v":0},{"p":2,"t":15.5,"v":0},{"p":2,"t":15.6,"v":15},{"p":2,"t":15.7,"v":0},{"p":2,"t":16.4,"v":0},{"p":2,"t":16.55,"v":15},{"p":2,"t":16.7,"v":45},{"p":2,"t":16.8,"v":10},{"p":2,"t":16.9,"v":0},{"p":2,"t":17.9,"v":0},{"p":2,"t":18,"v":8},{"p":2,"t":18.1,"v":0},{"p":2,"t":18.2,"v":8},{"p":2,"t":18.3,"v":0},{"p":2,"t":18.75,"v":0},{"p":2,"t":18.9,"v":17},{"p":2,"t":19,"v":3},{"p":2,"t":19.1,"v":0},{"p":2,"t":20,"v":0},
{"p":3,"t":0,"v":0},{"p":3,"t":0.15,"v":6},{"p":3,"t":0.3,"v":0},{"p":3,"t":0.85,"v":0},{"p":3,"t":1,"v":26},{"p":3,"t":1.1,"v":8},{"p":3,"t":1.3,"v":12},{"p":3,"t":1.45,"v":0},{"p":3,"t":1.8,"v":0},{"p":3,"t":1.9,"v":14},{"p":3,"t":2,"v":4},{"p":3,"t":2.3,"v":12},{"p":3,"t":2.45,"v":0},{"p":3,"t":2.95,"v":0},{"p":3,"t":3.05,"v":10},{"p":3,"t":3.15,"v":0},{"p":3,"t":3.55,"v":0},{"p":3,"t":3.7,"v":22},{"p":3,"t":3.85,"v":8},{"p":3,"t":4,"v":46},{"p":3,"t":4.15,"v":18},{"p":3,"t":4.35,"v":30},{"p":3,"t":4.5,"v":12},{"p":3,"t":4.7,"v":38},{"p":3,"t":4.85,"v":6},{"p":3,"t":5.15,"v":10},{"p":3,"t":5.3,"v":30},{"p":3,"t":5.4,"v":12},{"p":3,"t":5.55,"v":40},{"p":3,"t":5.7,"v":14},{"p":3,"t":5.85,"v":20},{"p":3,"t":6,"v":0},{"p":3,"t":6.25,"v":0},{"p":3,"t":6.4,"v":31},{"p":3,"t":6.5,"v":15},{"p":3,"t":6.6,"v":25},{"p":3,"t":6.75,"v":5},{"p":3,"t":6.85,"v":18},{"p":3,"t":6.95,"v":0},{"p":3,"t":7.4,"v":0},{"p":3,"t":7.5,"v":12},{"p":3,"t":7.6,"v":0},{"p":3,"t":8.8,"v":0},{"p":3,"t":8.9,"v":10},{"p":3,"t":9,"v":0},{"p":3,"t":9.85,"v":0},{"p":3,"t":10,"v":26},{"p":3,"t":10.1,"v":5},{"p":3,"t":10.2,"v":0},{"p":3,"t":11.3,"v":0},{"p":3,"t":11.4,"v":12},{"p":3,"t":11.5,"v":0},{"p":3,"t":12.3,"v":0},{"p":3,"t":12.4,"v":10},{"p":3,"t":12.5,"v":0},{"p":3,"t":13.3,"v":0},{"p":3,"t":13.4,"v":12},{"p":3,"t":13.5,"v":0},{"p":3,"t":14.15,"v":0},{"p":3,"t":14.25,"v":10},{"p":3,"t":14.35,"v":0},{"p":3,"t":14.85,"v":0},{"p":3,"t":15,"v":28},{"p":3,"t":15.1,"v":8},{"p":3,"t":15.35,"v":16},{"p":3,"t":15.5,"v":0},{"p":3,"t":15.95,"v":0},{"p":3,"t":16.05,"v":12},{"p":3,"t":16.15,"v":0},{"p":3,"t":16.5,"v":0},{"p":3,"t":16.6,"v":20},{"p":3,"t":16.7,"v":0},{"p":3,"t":17,"v":0},{"p":3,"t":17.1,"v":16},{"p":3,"t":17.2,"v":0},{"p":3,"t":17.65,"v":0},{"p":3,"t":17.75,"v":14},{"p":3,"t":17.85,"v":0},{"p":3,"t":18.2,"v":0},{"p":3,"t":18.3,"v":20},{"p":3,"t":18.4,"v":8},{"p":3,"t":18.55,"v":0},{"p":3,"t":19,"v":0},{"p":3,"t":19.1,"v":12},{"p":3,"t":19.2,"v":0},{"p":3,"t":19.5,"v":0},{"p":3,"t":19.6,"v":20},{"p":3,"t":19.7,"v":0},{"p":3,"t":20,"v":0},
{"p":4,"t":0,"v":0},{"p":4,"t":0.2,"v":0},{"p":4,"t":0.3,"v":14},{"p":4,"t":0.4,"v":0},{"p":4,"t":0.7,"v":0},{"p":4,"t":0.8,"v":16},{"p":4,"t":0.9,"v":0},{"p":4,"t":1.25,"v":0},{"p":4,"t":1.35,"v":8},{"p":4,"t":1.45,"v":0},{"p":4,"t":1.9,"v":0},{"p":4,"t":2,"v":14},{"p":4,"t":2.1,"v":0},{"p":4,"t":2.9,"v":0},{"p":4,"t":3,"v":18},{"p":4,"t":3.1,"v":0},{"p":4,"t":3.65,"v":0},{"p":4,"t":3.75,"v":6},{"p":4,"t":3.85,"v":0},{"p":4,"t":4.3,"v":0},{"p":4,"t":4.45,"v":10},{"p":4,"t":4.6,"v":30},{"p":4,"t":4.75,"v":20},{"p":4,"t":4.9,"v":32},{"p":4,"t":5,"v":10},{"p":4,"t":5.2,"v":22},{"p":4,"t":5.4,"v":30},{"p":4,"t":5.55,"v":35},{"p":4,"t":5.7,"v":53},{"p":4,"t":5.8,"v":20},{"p":4,"t":5.95,"v":12},{"p":4,"t":6.05,"v":0},{"p":4,"t":8.9,"v":0},{"p":4,"t":9,"v":14},{"p":4,"t":9.1,"v":0},{"p":4,"t":11.4,"v":0},{"p":4,"t":11.5,"v":12},{"p":4,"t":11.6,"v":0},{"p":4,"t":13.3,"v":0},{"p":4,"t":13.4,"v":10},{"p":4,"t":13.5,"v":0},{"p":4,"t":14.15,"v":0},{"p":4,"t":14.25,"v":12},{"p":4,"t":14.4,"v":0},{"p":4,"t":17.95,"v":0},{"p":4,"t":18.05,"v":10},{"p":4,"t":18.15,"v":0},{"p":4,"t":20,"v":0},
{"p":5,"t":0,"v":0},{"p":5,"t":0.8,"v":0},{"p":5,"t":0.9,"v":10},{"p":5,"t":1,"v":0},{"p":5,"t":1.65,"v":0},{"p":5,"t":1.75,"v":16},{"p":5,"t":1.85,"v":0},{"p":5,"t":5.1,"v":0},{"p":5,"t":5.2,"v":6},{"p":5,"t":5.35,"v":18},{"p":5,"t":5.5,"v":40},{"p":5,"t":5.6,"v":30},{"p":5,"t":5.7,"v":36},{"p":5,"t":5.8,"v":12},{"p":5,"t":5.95,"v":42},{"p":5,"t":6.05,"v":14},{"p":5,"t":6.2,"v":20},{"p":5,"t":6.3,"v":8},{"p":5,"t":6.45,"v":25},{"p":5,"t":6.6,"v":5},{"p":5,"t":6.75,"v":0},{"p":5,"t":8.7,"v":0},{"p":5,"t":8.8,"v":10},{"p":5,"t":8.9,"v":0},{"p":5,"t":10.7,"v":0},{"p":5,"t":10.8,"v":14},{"p":5,"t":10.9,"v":0},{"p":5,"t":12.2,"v":0},{"p":5,"t":12.3,"v":12},{"p":5,"t":12.4,"v":0},{"p":5,"t":13.8,"v":0},{"p":5,"t":13.9,"v":15},{"p":5,"t":14,"v":0},{"p":5,"t":15,"v":0},{"p":5,"t":15.1,"v":12},{"p":5,"t":15.2,"v":0},{"p":5,"t":16.9,"v":0},{"p":5,"t":17,"v":14},{"p":5,"t":17.1,"v":0},{"p":5,"t":19.8,"v":0},{"p":5,"t":19.9,"v":10},{"p":5,"t":20,"v":0},
{"p":6,"t":0,"v":0},{"p":6,"t":0.05,"v":20},{"p":6,"t":0.15,"v":0},{"p":6,"t":0.4,"v":0},{"p":6,"t":0.55,"v":12},{"p":6,"t":0.65,"v":0},{"p":6,"t":0.95,"v":0},{"p":6,"t":1.05,"v":15},{"p":6,"t":1.15,"v":0},{"p":6,"t":1.6,"v":0},{"p":6,"t":1.7,"v":12},{"p":6,"t":1.8,"v":0},{"p":6,"t":2.05,"v":0},{"p":6,"t":2.15,"v":18},{"p":6,"t":2.25,"v":0},{"p":6,"t":2.7,"v":0},{"p":6,"t":2.8,"v":15},{"p":6,"t":2.9,"v":0},{"p":6,"t":3.3,"v":0},{"p":6,"t":3.4,"v":22},{"p":6,"t":3.5,"v":5},{"p":6,"t":3.65,"v":14},{"p":6,"t":3.75,"v":0},{"p":6,"t":4.1,"v":0},{"p":6,"t":4.2,"v":10},{"p":6,"t":4.3,"v":0},{"p":6,"t":4.65,"v":0},{"p":6,"t":4.75,"v":18},{"p":6,"t":4.85,"v":0},{"p":6,"t":5.25,"v":0},{"p":6,"t":5.35,"v":10},{"p":6,"t":5.5,"v":0},{"p":6,"t":5.95,"v":0},{"p":6,"t":6.05,"v":20},{"p":6,"t":6.15,"v":53},{"p":6,"t":6.25,"v":25},{"p":6,"t":6.4,"v":18},{"p":6,"t":6.55,"v":10},{"p":6,"t":6.7,"v":15},{"p":6,"t":6.85,"v":8},{"p":6,"t":7,"v":0},{"p":6,"t":9,"v":0},{"p":6,"t":9.1,"v":18},{"p":6,"t":9.2,"v":0},{"p":6,"t":10.3,"v":0},{"p":6,"t":10.4,"v":8},{"p":6,"t":10.5,"v":0},{"p":6,"t":11.6,"v":0},{"p":6,"t":11.7,"v":10},{"p":6,"t":11.8,"v":0},{"p":6,"t":12.6,"v":0},{"p":6,"t":12.7,"v":8},{"p":6,"t":12.8,"v":0},{"p":6,"t":14.1,"v":0},{"p":6,"t":14.2,"v":14},{"p":6,"t":14.3,"v":0},{"p":6,"t":14.5,"v":0},{"p":6,"t":14.6,"v":18},{"p":6,"t":14.7,"v":0},{"p":6,"t":15.4,"v":0},{"p":6,"t":15.5,"v":10},{"p":6,"t":15.6,"v":0},{"p":6,"t":16.9,"v":0},{"p":6,"t":17,"v":12},{"p":6,"t":17.1,"v":0},{"p":6,"t":17.3,"v":0},{"p":6,"t":17.4,"v":16},{"p":6,"t":17.5,"v":0},{"p":6,"t":17.9,"v":0},{"p":6,"t":18,"v":12},{"p":6,"t":18.1,"v":0},{"p":6,"t":18.3,"v":0},{"p":6,"t":18.4,"v":15},{"p":6,"t":18.5,"v":0},{"p":6,"t":19.9,"v":0},{"p":6,"t":20,"v":14}
]
},
"bounds":"flush",
"columns":2,
"spacing":{"row":0,"column":32},
"concat":[
{"width":254,"height":78,"layer":[
{"data":{"values":[{"s":4.9,"e":5.85}]},"mark":{"type":"rect","color":"#d7d7d8"},"encoding":{"x":{"field":"s","type":"quantitative","scale":{"domain":[0,20]},"axis":null},"x2":{"field":"e"},"y":{"datum":5,"type":"quantitative","scale":{"domain":[-11.76,80],"nice":false},"axis":null},"y2":{"datum":71}}},
{"data":{"values":[{}]},"mark":{"type":"rule","color":"#333333","strokeDash":[4,3],"strokeWidth":1},"encoding":{"x":{"datum":0,"type":"quantitative","scale":{"domain":[0,20]},"axis":null},"x2":{"datum":20},"y":{"datum":0,"type":"quantitative","scale":{"domain":[-11.76,80],"nice":false},"axis":null}}},
{"data":{"name":"left"},"transform":[{"filter":"datum.p==1"}],"mark":{"type":"line","color":"#e3262d","strokeWidth":2.5},"encoding":{"x":{"field":"t","type":"quantitative","scale":{"domain":[0,20]},"axis":null},"y":{"field":"v","type":"quantitative","scale":{"domain":[-11.76,80],"nice":false},"axis":null}}},
{"data":{"values":[{}]},"mark":{"type":"text","fontSize":10,"color":"#444444"},"encoding":{"x":{"datum":5.3,"type":"quantitative","scale":{"domain":[0,20]},"axis":null},"y":{"datum":61,"type":"quantitative","scale":{"domain":[-11.76,80],"nice":false},"axis":null},"text":{"value":"1"}}},
{"data":{"values":[{}]},"mark":{"type":"text","fontSize":9,"color":"#444444","align":"left","baseline":"middle"},"encoding":{"x":{"datum":0.05,"type":"quantitative","scale":{"domain":[0,20]},"axis":null},"y":{"datum":61,"type":"quantitative","scale":{"domain":[-11.76,80],"nice":false},"axis":null},"text":{"value":"ΔF/F"}}},
{"data":{"values":[{"t":15.2,"v":66,"o":0},{"t":14.95,"v":66,"o":1},{"t":14.95,"v":46,"o":2},{"t":15.2,"v":46,"o":3}]},"mark":{"type":"line","color":"#333333","strokeWidth":1},"encoding":{"x":{"field":"t","type":"quantitative","scale":{"domain":[0,20]},"axis":null},"y":{"field":"v","type":"quantitative","scale":{"domain":[-11.76,80],"nice":false},"axis":null},"order":{"field":"o"}}},
{"data":{"values":[{}]},"mark":{"type":"text","fontSize":9,"color":"#444444","align":"left","baseline":"middle"},"encoding":{"x":{"datum":15.2,"type":"quantitative","scale":{"domain":[0,20]},"axis":null},"y":{"datum":56,"type":"quantitative","scale":{"domain":[-11.76,80],"nice":false},"axis":null},"text":{"value":"20%"}}}
]},
{"width":254,"height":78,"layer":[
{"data":{"values":[{"s":4.9,"e":5.9}]},"mark":{"type":"rect","color":"#d7d7d8"},"encoding":{"x":{"field":"s","type":"quantitative","scale":{"domain":[0,20]},"axis":null},"x2":{"field":"e"},"y":{"datum":0,"type":"quantitative","scale":{"domain":[-11,67],"nice":false},"axis":null},"y2":{"datum":63}}},
{"data":{"name":"meas"},"transform":[{"filter":"datum.p==1"}],"mark":{"type":"area","color":"#3bb3db","opacity":1},"encoding":{"x":{"field":"t","type":"quantitative","scale":{"domain":[0,20]},"axis":null},"y":{"field":"v","type":"quantitative","scale":{"domain":[-11,67],"nice":false},"axis":null}}},
{"data":{"name":"pred"},"transform":[{"filter":"datum.p==1"}],"mark":{"type":"line","color":"#1a6b31","strokeWidth":2.5,"strokeJoin":"round"},"encoding":{"x":{"field":"t","type":"quantitative","scale":{"domain":[0,20]},"axis":null},"y":{"field":"v","type":"quantitative","scale":{"domain":[-11,67],"nice":false},"axis":null}}},
{"data":{"values":[{}]},"mark":{"type":"rule","color":"#1a6b31","strokeWidth":2.5},"encoding":{"x":{"datum":-1.8,"type":"quantitative","scale":{"domain":[0,20]},"axis":null},"x2":{"datum":-0.95},"y":{"datum":61,"type":"quantitative","scale":{"domain":[-11,67],"nice":false},"axis":null}}},
{"data":{"values":[{}]},"mark":{"type":"rect","color":"#3bb3db"},"encoding":{"x":{"datum":-1.57,"type":"quantitative","scale":{"domain":[0,20]},"axis":null},"x2":{"datum":-0.95},"y":{"datum":43,"type":"quantitative","scale":{"domain":[-11,67],"nice":false},"axis":null},"y2":{"datum":51}}},
{"data":{"values":[{"k":"predicted","v":61},{"k":"measured","v":47}]},"mark":{"type":"text","fontSize":9,"color":"#444444","align":"left","baseline":"middle"},"encoding":{"x":{"datum":-0.4,"type":"quantitative","scale":{"domain":[0,20]},"axis":null},"y":{"field":"v","type":"quantitative","scale":{"domain":[-11,67],"nice":false},"axis":null},"text":{"field":"k"}}},
{"data":{"values":[{"t":17.7,"v":53,"o":0},{"t":17.45,"v":53,"o":1},{"t":17.45,"v":33,"o":2},{"t":17.7,"v":33,"o":3}]},"mark":{"type":"line","color":"#333333","strokeWidth":1},"encoding":{"x":{"field":"t","type":"quantitative","scale":{"domain":[0,20]},"axis":null},"y":{"field":"v","type":"quantitative","scale":{"domain":[-11,67],"nice":false},"axis":null},"order":{"field":"o"}}},
{"data":{"values":[{}]},"mark":{"type":"text","fontSize":9,"color":"#444444","align":"left","baseline":"middle"},"encoding":{"x":{"datum":17.7,"type":"quantitative","scale":{"domain":[0,20]},"axis":null},"y":{"datum":44,"type":"quantitative","scale":{"domain":[-11,67],"nice":false},"axis":null},"text":{"value":"20 sp/s"}}}
]},
{"width":254,"height":77,"layer":[
{"data":{"values":[{"s":4.9,"e":5.85}]},"mark":{"type":"rect","color":"#d7d7d8"},"encoding":{"x":{"field":"s","type":"quantitative","scale":{"domain":[0,20]},"axis":null},"x2":{"field":"e"},"y":{"datum":5,"type":"quantitative","scale":{"domain":[-17.65,72.94],"nice":false},"axis":null},"y2":{"datum":72}}},
{"data":{"values":[{}]},"mark":{"type":"rule","color":"#333333","strokeDash":[4,3],"strokeWidth":1},"encoding":{"x":{"datum":0,"type":"quantitative","scale":{"domain":[0,20]},"axis":null},"x2":{"datum":20},"y":{"datum":0,"type":"quantitative","scale":{"domain":[-17.65,72.94],"nice":false},"axis":null}}},
{"data":{"name":"left"},"transform":[{"filter":"datum.p==2"}],"mark":{"type":"line","color":"#e3262d","strokeWidth":2.5},"encoding":{"x":{"field":"t","type":"quantitative","scale":{"domain":[0,20]},"axis":null},"y":{"field":"v","type":"quantitative","scale":{"domain":[-17.65,72.94],"nice":false},"axis":null}}},
{"data":{"values":[{}]},"mark":{"type":"text","fontSize":10,"color":"#444444"},"encoding":{"x":{"datum":5.3,"type":"quantitative","scale":{"domain":[0,20]},"axis":null},"y":{"datum":60,"type":"quantitative","scale":{"domain":[-17.65,72.94],"nice":false},"axis":null},"text":{"value":"2"}}}
]},
{"width":254,"height":77,"layer":[
{"data":{"values":[{"s":4.9,"e":5.9}]},"mark":{"type":"rect","color":"#d7d7d8"},"encoding":{"x":{"field":"s","type":"quantitative","scale":{"domain":[0,20]},"axis":null},"x2":{"field":"e"},"y":{"datum":0,"type":"quantitative","scale":{"domain":[-8,69],"nice":false},"axis":null},"y2":{"datum":58}}},
{"data":{"name":"meas"},"transform":[{"filter":"datum.p==2"}],"mark":{"type":"area","color":"#3bb3db","opacity":1},"encoding":{"x":{"field":"t","type":"quantitative","scale":{"domain":[0,20]},"axis":null},"y":{"field":"v","type":"quantitative","scale":{"domain":[-8,69],"nice":false},"axis":null}}},
{"data":{"name":"pred"},"transform":[{"filter":"datum.p==2"}],"mark":{"type":"line","color":"#1a6b31","strokeWidth":2.5,"strokeJoin":"round"},"encoding":{"x":{"field":"t","type":"quantitative","scale":{"domain":[0,20]},"axis":null},"y":{"field":"v","type":"quantitative","scale":{"domain":[-8,69],"nice":false},"axis":null}}}
]},
{"width":254,"height":81,"layer":[
{"data":{"values":[{"s":4.9,"e":5.85}]},"mark":{"type":"rect","color":"#d7d7d8"},"encoding":{"x":{"field":"s","type":"quantitative","scale":{"domain":[0,20]},"axis":null},"x2":{"field":"e"},"y":{"datum":5,"type":"quantitative","scale":{"domain":[-23.53,71.76],"nice":false},"axis":null},"y2":{"datum":72}}},
{"data":{"values":[{}]},"mark":{"type":"rule","color":"#333333","strokeDash":[4,3],"strokeWidth":1},"encoding":{"x":{"datum":0,"type":"quantitative","scale":{"domain":[0,20]},"axis":null},"x2":{"datum":20},"y":{"datum":0,"type":"quantitative","scale":{"domain":[-23.53,71.76],"nice":false},"axis":null}}},
{"data":{"name":"left"},"transform":[{"filter":"datum.p==3"}],"mark":{"type":"line","color":"#e3262d","strokeWidth":2.5},"encoding":{"x":{"field":"t","type":"quantitative","scale":{"domain":[0,20]},"axis":null},"y":{"field":"v","type":"quantitative","scale":{"domain":[-23.53,71.76],"nice":false},"axis":null}}},
{"data":{"values":[{}]},"mark":{"type":"text","fontSize":10,"color":"#444444"},"encoding":{"x":{"datum":5.3,"type":"quantitative","scale":{"domain":[0,20]},"axis":null},"y":{"datum":58,"type":"quantitative","scale":{"domain":[-23.53,71.76],"nice":false},"axis":null},"text":{"value":"3"}}}
]},
{"width":254,"height":81,"layer":[
{"data":{"values":[{"s":4.9,"e":5.9}]},"mark":{"type":"rect","color":"#d7d7d8"},"encoding":{"x":{"field":"s","type":"quantitative","scale":{"domain":[0,20]},"axis":null},"x2":{"field":"e"},"y":{"datum":0,"type":"quantitative","scale":{"domain":[-8,73],"nice":false},"axis":null},"y2":{"datum":58}}},
{"data":{"name":"meas"},"transform":[{"filter":"datum.p==3"}],"mark":{"type":"area","color":"#3bb3db","opacity":1},"encoding":{"x":{"field":"t","type":"quantitative","scale":{"domain":[0,20]},"axis":null},"y":{"field":"v","type":"quantitative","scale":{"domain":[-8,73],"nice":false},"axis":null}}},
{"data":{"name":"pred"},"transform":[{"filter":"datum.p==3"}],"mark":{"type":"line","color":"#1a6b31","strokeWidth":2.5,"strokeJoin":"round"},"encoding":{"x":{"field":"t","type":"quantitative","scale":{"domain":[0,20]},"axis":null},"y":{"field":"v","type":"quantitative","scale":{"domain":[-8,73],"nice":false},"axis":null}}}
]},
{"width":254,"height":78,"layer":[
{"data":{"values":[{"s":4.9,"e":5.85}]},"mark":{"type":"rect","color":"#d7d7d8"},"encoding":{"x":{"field":"s","type":"quantitative","scale":{"domain":[0,20]},"axis":null},"x2":{"field":"e"},"y":{"datum":5,"type":"quantitative","scale":{"domain":[-24.71,67.06],"nice":false},"axis":null},"y2":{"datum":66}}},
{"data":{"values":[{}]},"mark":{"type":"rule","color":"#333333","strokeDash":[4,3],"strokeWidth":1},"encoding":{"x":{"datum":0,"type":"quantitative","scale":{"domain":[0,20]},"axis":null},"x2":{"datum":20},"y":{"datum":0,"type":"quantitative","scale":{"domain":[-24.71,67.06],"nice":false},"axis":null}}},
{"data":{"name":"left"},"transform":[{"filter":"datum.p==4"}],"mark":{"type":"line","color":"#e3262d","strokeWidth":2.5},"encoding":{"x":{"field":"t","type":"quantitative","scale":{"domain":[0,20]},"axis":null},"y":{"field":"v","type":"quantitative","scale":{"domain":[-24.71,67.06],"nice":false},"axis":null}}},
{"data":{"values":[{}]},"mark":{"type":"text","fontSize":10,"color":"#444444"},"encoding":{"x":{"datum":5.3,"type":"quantitative","scale":{"domain":[0,20]},"axis":null},"y":{"datum":58,"type":"quantitative","scale":{"domain":[-24.71,67.06],"nice":false},"axis":null},"text":{"value":"4"}}}
]},
{"width":254,"height":78,"layer":[
{"data":{"values":[{"s":4.9,"e":5.9}]},"mark":{"type":"rect","color":"#d7d7d8"},"encoding":{"x":{"field":"s","type":"quantitative","scale":{"domain":[0,20]},"axis":null},"x2":{"field":"e"},"y":{"datum":0,"type":"quantitative","scale":{"domain":[-9,69],"nice":false},"axis":null},"y2":{"datum":58}}},
{"data":{"name":"meas"},"transform":[{"filter":"datum.p==4"}],"mark":{"type":"area","color":"#3bb3db","opacity":1},"encoding":{"x":{"field":"t","type":"quantitative","scale":{"domain":[0,20]},"axis":null},"y":{"field":"v","type":"quantitative","scale":{"domain":[-9,69],"nice":false},"axis":null}}},
{"data":{"name":"pred"},"transform":[{"filter":"datum.p==4"}],"mark":{"type":"line","color":"#1a6b31","strokeWidth":2.5,"strokeJoin":"round"},"encoding":{"x":{"field":"t","type":"quantitative","scale":{"domain":[0,20]},"axis":null},"y":{"field":"v","type":"quantitative","scale":{"domain":[-9,69],"nice":false},"axis":null}}}
]},
{"width":254,"height":80,"layer":[
{"data":{"values":[{"s":4.9,"e":5.85}]},"mark":{"type":"rect","color":"#d7d7d8"},"encoding":{"x":{"field":"s","type":"quantitative","scale":{"domain":[0,20]},"axis":null},"x2":{"field":"e"},"y":{"datum":5,"type":"quantitative","scale":{"domain":[-12.94,81.18],"nice":false},"axis":null},"y2":{"datum":72}}},
{"data":{"values":[{}]},"mark":{"type":"rule","color":"#333333","strokeDash":[4,3],"strokeWidth":1},"encoding":{"x":{"datum":0,"type":"quantitative","scale":{"domain":[0,20]},"axis":null},"x2":{"datum":20},"y":{"datum":0,"type":"quantitative","scale":{"domain":[-12.94,81.18],"nice":false},"axis":null}}},
{"data":{"name":"left"},"transform":[{"filter":"datum.p==5"}],"mark":{"type":"line","color":"#e3262d","strokeWidth":2.5},"encoding":{"x":{"field":"t","type":"quantitative","scale":{"domain":[0,20]},"axis":null},"y":{"field":"v","type":"quantitative","scale":{"domain":[-12.94,81.18],"nice":false},"axis":null}}},
{"data":{"values":[{}]},"mark":{"type":"text","fontSize":10,"color":"#444444"},"encoding":{"x":{"datum":5.3,"type":"quantitative","scale":{"domain":[0,20]},"axis":null},"y":{"datum":59,"type":"quantitative","scale":{"domain":[-12.94,81.18],"nice":false},"axis":null},"text":{"value":"5"}}}
]},
{"width":254,"height":80,"layer":[
{"data":{"values":[{"s":4.9,"e":5.9}]},"mark":{"type":"rect","color":"#d7d7d8"},"encoding":{"x":{"field":"s","type":"quantitative","scale":{"domain":[0,20]},"axis":null},"x2":{"field":"e"},"y":{"datum":0,"type":"quantitative","scale":{"domain":[-10,70],"nice":false},"axis":null},"y2":{"datum":57}}},
{"data":{"name":"meas"},"transform":[{"filter":"datum.p==5"}],"mark":{"type":"area","color":"#3bb3db","opacity":1},"encoding":{"x":{"field":"t","type":"quantitative","scale":{"domain":[0,20]},"axis":null},"y":{"field":"v","type":"quantitative","scale":{"domain":[-10,70],"nice":false},"axis":null}}},
{"data":{"name":"pred"},"transform":[{"filter":"datum.p==5"}],"mark":{"type":"line","color":"#1a6b31","strokeWidth":2.5,"strokeJoin":"round"},"encoding":{"x":{"field":"t","type":"quantitative","scale":{"domain":[0,20]},"axis":null},"y":{"field":"v","type":"quantitative","scale":{"domain":[-10,70],"nice":false},"axis":null}}}
]},
{"width":254,"height":70,"layer":[
{"data":{"values":[{"s":4.9,"e":5.85}]},"mark":{"type":"rect","color":"#d7d7d8"},"encoding":{"x":{"field":"s","type":"quantitative","scale":{"domain":[0,20]},"axis":{"values":[0,5,10,15,20],"title":"time (s)","offset":14,"tickSize":-4,"labelPadding":11,"domainColor":"#333333","tickColor":"#333333","labelColor":"#444444","labelFontSize":9,"titleFontSize":9,"titleFontWeight":"normal","titleColor":"#444444","titleX":91,"titleY":7,"titleBaseline":"top","titleAlign":"center","labelFlush":false}},"x2":{"field":"e"},"y":{"datum":5,"type":"quantitative","scale":{"domain":[-10.59,71.76],"nice":false},"axis":null},"y2":{"datum":63}}},
{"data":{"values":[{}]},"mark":{"type":"rule","color":"#333333","strokeDash":[4,3],"strokeWidth":1},"encoding":{"x":{"datum":0,"type":"quantitative","scale":{"domain":[0,20]},"axis":{"values":[0,5,10,15,20],"title":"time (s)","offset":14,"tickSize":-4,"labelPadding":11,"domainColor":"#333333","tickColor":"#333333","labelColor":"#444444","labelFontSize":9,"titleFontSize":9,"titleFontWeight":"normal","titleColor":"#444444","titleX":91,"titleY":7,"titleBaseline":"top","titleAlign":"center","labelFlush":false}},"x2":{"datum":20},"y":{"datum":0,"type":"quantitative","scale":{"domain":[-10.59,71.76],"nice":false},"axis":null}}},
{"data":{"name":"left"},"transform":[{"filter":"datum.p==6"}],"mark":{"type":"line","color":"#e3262d","strokeWidth":2.5},"encoding":{"x":{"field":"t","type":"quantitative","scale":{"domain":[0,20]},"axis":{"values":[0,5,10,15,20],"title":"time (s)","offset":14,"tickSize":-4,"labelPadding":11,"domainColor":"#333333","tickColor":"#333333","labelColor":"#444444","labelFontSize":9,"titleFontSize":9,"titleFontWeight":"normal","titleColor":"#444444","titleX":91,"titleY":7,"titleBaseline":"top","titleAlign":"center","labelFlush":false}},"y":{"field":"v","type":"quantitative","scale":{"domain":[-10.59,71.76],"nice":false},"axis":null}}},
{"data":{"values":[{}]},"mark":{"type":"text","fontSize":10,"color":"#444444"},"encoding":{"x":{"datum":5.3,"type":"quantitative","scale":{"domain":[0,20]},"axis":{"values":[0,5,10,15,20],"title":"time (s)","offset":14,"tickSize":-4,"labelPadding":11,"domainColor":"#333333","tickColor":"#333333","labelColor":"#444444","labelFontSize":9,"titleFontSize":9,"titleFontWeight":"normal","titleColor":"#444444","titleX":91,"titleY":7,"titleBaseline":"top","titleAlign":"center","labelFlush":false}},"y":{"datum":53,"type":"quantitative","scale":{"domain":[-10.59,71.76],"nice":false},"axis":null},"text":{"value":"6"}}}
]},
{"width":254,"height":70,"layer":[
{"data":{"values":[{"s":4.9,"e":5.9}]},"mark":{"type":"rect","color":"#d7d7d8"},"encoding":{"x":{"field":"s","type":"quantitative","scale":{"domain":[0,20]},"axis":{"values":[0,5,10,15,20],"title":"time (s)","offset":14,"tickSize":-4,"labelPadding":11,"domainColor":"#333333","tickColor":"#333333","labelColor":"#444444","labelFontSize":9,"titleFontSize":9,"titleFontWeight":"normal","titleColor":"#444444","titleX":95,"titleY":7,"titleBaseline":"top","titleAlign":"center","labelFlush":false}},"x2":{"field":"e"},"y":{"datum":0,"type":"quantitative","scale":{"domain":[-3,67],"nice":false},"axis":null},"y2":{"datum":57}}},
{"data":{"name":"meas"},"transform":[{"filter":"datum.p==6"}],"mark":{"type":"area","color":"#3bb3db","opacity":1},"encoding":{"x":{"field":"t","type":"quantitative","scale":{"domain":[0,20]},"axis":{"values":[0,5,10,15,20],"title":"time (s)","offset":14,"tickSize":-4,"labelPadding":11,"domainColor":"#333333","tickColor":"#333333","labelColor":"#444444","labelFontSize":9,"titleFontSize":9,"titleFontWeight":"normal","titleColor":"#444444","titleX":95,"titleY":7,"titleBaseline":"top","titleAlign":"center","labelFlush":false}},"y":{"field":"v","type":"quantitative","scale":{"domain":[-3,67],"nice":false},"axis":null}}},
{"data":{"name":"pred"},"transform":[{"filter":"datum.p==6"}],"mark":{"type":"line","color":"#1a6b31","strokeWidth":2.5,"strokeJoin":"round"},"encoding":{"x":{"field":"t","type":"quantitative","scale":{"domain":[0,20]},"axis":{"values":[0,5,10,15,20],"title":"time (s)","offset":14,"tickSize":-4,"labelPadding":11,"domainColor":"#333333","tickColor":"#333333","labelColor":"#444444","labelFontSize":9,"titleFontSize":9,"titleFontWeight":"normal","titleColor":"#444444","titleX":95,"titleY":7,"titleBaseline":"top","titleAlign":"center","labelFlush":false}},"y":{"field":"v","type":"quantitative","scale":{"domain":[-3,67],"nice":false},"axis":null}}}
]}
]
}
